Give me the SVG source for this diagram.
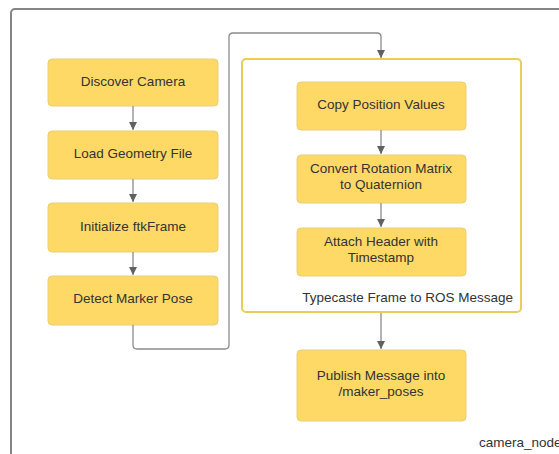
<svg xmlns="http://www.w3.org/2000/svg" width="559" height="454" viewBox="0 0 559 454">
  <defs>
    <marker id="arrow" viewBox="0 0 8 10" refX="8" refY="5" markerWidth="8" markerHeight="10" markerUnits="userSpaceOnUse" orient="auto">
      <path d="M0,1 L8,5 L0,9 Z" fill="#5f6063"/>
    </marker>
    <style>
      .step rect { fill: #fed966; stroke: #e6cf7a; stroke-width: 1; }
      .step text, .label { font-family: "Liberation Sans", Arial, sans-serif; font-size: 13.5px; fill: #333333; text-anchor: middle; }
      .label { text-anchor: start; }
      .wire { fill: none; stroke: #8a8a8a; stroke-width: 1.3; }
    </style>
  </defs>

  <rect width="559" height="454" fill="#ffffff"/>

  <!-- node frame: camera_node -->
  <g id="camera_node">
    <rect x="11" y="9" width="580" height="480" rx="4" fill="none" stroke="#858585" stroke-width="2"/>
    <text class="label" x="479" y="447">camera_node</text>
  </g>

  <!-- typecast sub-process container -->
  <g id="typecaste">
    <rect x="242" y="59" width="279" height="253" rx="4" fill="#ffffff" stroke="#e8cd5a" stroke-width="2"/>
    <text class="label" x="513" y="302" style="text-anchor:end">Typecaste Frame to ROS Message</text>
  </g>

  <g id="discover" class="step">
    <rect x="48" y="59" width="170" height="47" rx="4"/>
    <text x="133" y="86">Discover Camera</text>
  </g>
  <g id="load" class="step">
    <rect x="48" y="131" width="170" height="48" rx="4"/>
    <text x="133" y="158">Load Geometry File</text>
  </g>
  <g id="init" class="step">
    <rect x="48" y="203" width="170" height="49" rx="4"/>
    <text x="133" y="231">Initialize ftkFrame</text>
  </g>
  <g id="detect" class="step">
    <rect x="48" y="276" width="170" height="49" rx="4"/>
    <text x="133" y="303">Detect Marker Pose</text>
  </g>

  <g id="copy" class="step">
    <rect x="297" y="82" width="169" height="48" rx="4"/>
    <text x="381" y="109">Copy Position Values</text>
  </g>
  <g id="convert" class="step">
    <rect x="297" y="155" width="169" height="48" rx="4"/>
    <text x="381" y="173">Convert Rotation Matrix</text>
    <text x="381" y="189">to Quaternion</text>
  </g>
  <g id="attach" class="step">
    <rect x="297" y="228" width="169" height="48" rx="4"/>
    <text x="381" y="246">Attach Header with</text>
    <text x="381" y="262">Timestamp</text>
  </g>

  <g id="publish" class="step">
    <rect x="297" y="350" width="169" height="71" rx="4"/>
    <text x="381" y="380">Publish Message into</text>
    <text x="381" y="396">/maker_poses</text>
  </g>

  <!-- connectors -->
  <g id="connectors">
    <path class="wire" d="M133,106 V130" marker-end="url(#arrow)"/>
    <path class="wire" d="M133,179 V202" marker-end="url(#arrow)"/>
    <path class="wire" d="M133,252 V275" marker-end="url(#arrow)"/>
    <path class="wire" d="M133,325 V345 Q133,349 137,349 H225 Q229,349 229,345 V37 Q229,33 233,33 H377 Q381,33 381,37 V58" marker-end="url(#arrow)"/>
    <path class="wire" d="M381,130 V154" marker-end="url(#arrow)"/>
    <path class="wire" d="M381,203 V227" marker-end="url(#arrow)"/>
    <path class="wire" d="M381,313 V349" marker-end="url(#arrow)"/>
  </g>
</svg>
